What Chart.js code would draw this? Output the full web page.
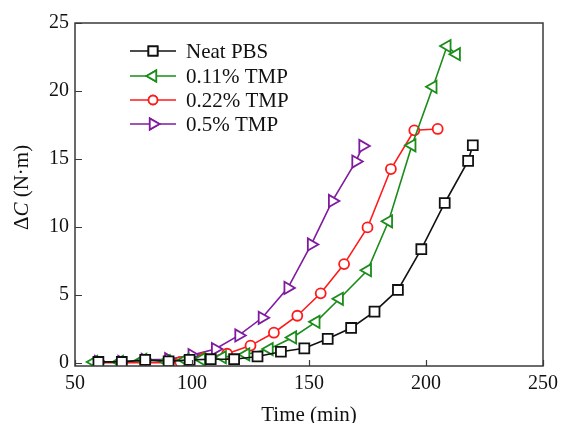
<!DOCTYPE html>
<html>
<head>
<meta charset="utf-8">
<script src="https://cdn.jsdelivr.net/npm/chart.js@4/dist/chart.umd.min.js"></script>
<style>
  html, body { margin: 0; padding: 0; background: #fff; }
  #wrap { width: 564px; height: 423px; position: relative; }
</style>
</head>
<body>
<div id="wrap"><canvas id="c" width="564" height="423"></canvas></div>
<script>
// ---- Data ----
const seriesNames = ['Neat PBS', '0.11% TMP', '0.22% TMP', '0.5% TMP'];

const pbsTime = [60, 70, 80, 90, 99, 108, 118, 128, 138, 148, 158, 168, 178, 188, 198, 208, 218, 220];
const pbsDC   = [0.05, 0.05, 0.2, 0.1, 0.2, 0.25, 0.25, 0.45, 0.8, 1.05, 1.75, 2.55, 3.75, 5.35, 8.35, 11.75, 14.85, 16.0];

const tmp011Time = [58, 69, 79, 89, 97, 104, 113, 123, 133, 143, 153, 163, 175, 184, 194, 203, 209, 213];
const tmp011DC   = [0.05, 0.05, 0.2, 0.1, 0.2, 0.25, 0.4, 0.6, 1.0, 1.85, 3.0, 4.7, 6.8, 10.4, 16.0, 20.3, 23.3, 22.7];

const tmp022Time = [60, 70, 80, 90, 95, 105, 115, 125, 135, 145, 155, 165, 175, 185, 195, 205];
const tmp022DC   = [0.0, 0.0, 0.0, 0.0, 0.05, 0.35, 0.65, 1.25, 2.2, 3.45, 5.1, 7.25, 9.95, 14.25, 17.1, 17.2];

const tmp05Time = [60, 70, 80, 90, 100, 110, 120, 130, 141, 151, 160, 170, 173];
const tmp05DC   = [0.05, 0.05, 0.2, 0.25, 0.55, 1.0, 2.0, 3.3, 5.5, 8.7, 11.9, 14.8, 15.95];

const xTicks = [50, 100, 150, 200, 250];
const yTicks = [0, 5, 10, 15, 20, 25];

// ---- Styles ----
const colors = ['#111111', '#1a8c1a', '#ff1a1a', '#7f1b9f'];
const styles = ['rect', 'triangle', 'circle', 'triangle'];
const rotations = [0, -90, 0, 90];
const radii = [7, 7, 5, 7];
const FONT = '"Liberation Serif", "Times New Roman", serif';

function pts(xs, ys) { return xs.map((x, i) => ({ x: x, y: ys[i] })); }
const allData = [pts(pbsTime, pbsDC), pts(tmp011Time, tmp011DC), pts(tmp022Time, tmp022DC), pts(tmp05Time, tmp05DC)];

const datasets = allData.map((d, i) => ({
  label: seriesNames[i],
  data: d,
  borderColor: colors[i],
  backgroundColor: '#ffffff',
  pointBorderColor: colors[i],
  pointBackgroundColor: '#ffffff',
  pointStyle: styles[i],
  pointRotation: rotations[i],
  pointRadius: radii[i],
  pointHoverRadius: radii[i],
  pointBorderWidth: 1.8,
  borderWidth: 1.6,
  tension: 0,
  fill: false
}));

// Frame, inward ticks, legend and y title
const decor = {
  id: 'decor',
  afterDatasetsDraw(chart) {
    const ctx = chart.ctx;
    const a = chart.chartArea;
    const xs = chart.scales.x, ys = chart.scales.y;
    ctx.save();
    ctx.strokeStyle = '#3a3a3a';
    ctx.lineWidth = 1.5;
    ctx.strokeRect(a.left, a.top, a.right - a.left, a.bottom - a.top);
    ctx.beginPath();
    yTicks.forEach(v => {
      const y = Math.round(ys.getPixelForValue(v)) + 0.5;
      ctx.moveTo(a.left, y); ctx.lineTo(a.left + 7, y);
    });
    xTicks.forEach(v => {
      const x = Math.round(xs.getPixelForValue(v)) + 0.5;
      ctx.moveTo(x, a.bottom); ctx.lineTo(x, a.bottom - 6);
    });
    ctx.lineWidth = 1.2;
    ctx.stroke();

    // Legend
    const lx0 = 130, lx1 = 176, mx = 153, tx = 186;
    const ly = [51, 76, 100, 124];
    ctx.font = '21px ' + FONT;
    ctx.textBaseline = 'middle';
    ctx.textAlign = 'left';
    datasets.forEach((ds, i) => {
      const y = ly[i];
      ctx.strokeStyle = colors[i];
      ctx.lineWidth = 1.6;
      ctx.beginPath(); ctx.moveTo(lx0, y); ctx.lineTo(lx1, y); ctx.stroke();
      Chart.helpers.drawPoint(ctx, {
        pointStyle: styles[i], rotation: rotations[i], radius: radii[i] - 0.5, borderWidth: 1.8
      }, mx, y);
      ctx.fillStyle = '#ffffff';
      ctx.lineWidth = 1.8;
      ctx.strokeStyle = colors[i];
      ctx.fill(); ctx.stroke();
      ctx.fillStyle = '#111111';
      ctx.fillText(seriesNames[i], tx, y + 1);
    });

    // Y axis title: ΔC (N·m) with italic C
    ctx.translate(22, (a.top + a.bottom) / 2 - 7);
    ctx.rotate(-Math.PI / 2);
    ctx.fillStyle = '#111111';
    ctx.textBaseline = 'middle';
    const p1 = 'Δ', p2 = 'C', p3 = ' (N·m)';
    ctx.font = '21px ' + FONT;
    const w1 = ctx.measureText(p1).width, w3 = ctx.measureText(p3).width;
    ctx.font = 'italic 21px ' + FONT;
    const w2 = ctx.measureText(p2).width;
    let x = -(w1 + w2 + w3) / 2;
    ctx.textAlign = 'left';
    ctx.font = '21px ' + FONT; ctx.fillText(p1, x, 0); x += w1;
    ctx.font = 'italic 21px ' + FONT; ctx.fillText(p2, x, 0); x += w2;
    ctx.font = '21px ' + FONT; ctx.fillText(p3, x, 0);
    ctx.restore();
  }
};

new Chart(document.getElementById('c'), {
  type: 'line',
  data: { datasets: datasets },
  options: {
    responsive: false,
    animation: false,
    devicePixelRatio: 1,
    layout: { padding: { top: 23, right: 17, left: 0, bottom: 0 } },
    plugins: { legend: { display: false }, tooltip: { enabled: false } },
    scales: {
      x: {
        type: 'linear',
        min: 50, max: 250,
        afterFit(s) { s.height = 57; },
        afterBuildTicks(s) { s.ticks = xTicks.map(v => ({ value: v })); },
        grid: { display: false, drawTicks: false },
        border: { display: false },
        ticks: { color: '#111', padding: 6, font: { family: FONT, size: 20 }, maxRotation: 0 },
        title: { display: true, text: 'Time (min)', color: '#111', font: { family: FONT, size: 21, lineHeight: 1 }, padding: { top: 0, bottom: -3 } }
      },
      y: {
        type: 'linear',
        min: -0.25, max: 25,
        afterFit(s) { s.width = 75; },
        afterBuildTicks(s) { s.ticks = yTicks.map(v => ({ value: v })); },
        grid: { display: false, drawTicks: false },
        border: { display: false },
        ticks: { color: '#111', padding: 6, font: { family: FONT, size: 20 } },
        title: { display: false }
      }
    }
  },
  plugins: [decor]
});
</script>
</body>
</html>
